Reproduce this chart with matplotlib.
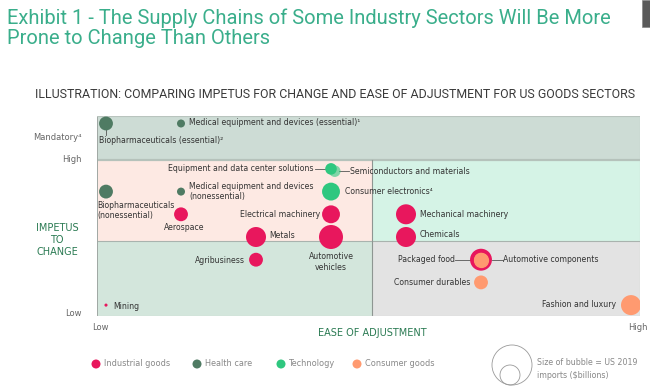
import matplotlib
matplotlib.use("Agg")
import matplotlib.pyplot as plt
from matplotlib.patches import Rectangle, Circle
import numpy as np

# ---------------- data ----------------
sectors = ["Biopharmaceuticals (essential)", "Medical equipment and devices (essential)",
           "Equipment and data center solutions", "Semiconductors and materials",
           "Consumer electronics", "Biopharmaceuticals (nonessential)",
           "Medical equipment and devices (nonessential)", "Aerospace",
           "Electrical machinery", "Metals", "Automotive vehicles",
           "Mechanical machinery", "Chemicals", "Agribusiness",
           "Automotive components", "Packaged food", "Consumer durables",
           "Fashion and luxury", "Mining"]
groups = ["Health care", "Health care", "Technology", "Technology", "Technology",
          "Health care", "Health care", "Industrial goods", "Industrial goods",
          "Industrial goods", "Industrial goods", "Industrial goods", "Industrial goods",
          "Industrial goods", "Industrial goods", "Consumer goods", "Consumer goods",
          "Consumer goods", "Industrial goods"]
ease = [1, 2, 4, 4.05, 4, 1, 2, 2, 4, 3, 4, 5, 5, 3, 6, 6, 6, 8, 1]
impetus = [9, 9, 7, 6.9, 6, 6, 6, 5, 5, 4, 4, 5, 4, 3, 3, 3, 2, 1, 1]
imports = [60, 20, 42, 42, 100, 60, 20, 60, 100, 125, 180, 125, 125, 60, 150, 60, 60, 125, 3]

group_names = ["Industrial goods", "Health care", "Technology", "Consumer goods"]
group_colors = {"Industrial goods": "#e8175d", "Health care": "#4f7b63",
                "Technology": "#2fc77f", "Consumer goods": "#ff9a70"}

# ---------------- figure ----------------
fig = plt.figure(figsize=(6.5, 3.88), dpi=100)
W, H = 650, 388

def fx(px):
    return px / W

def fy(py):
    return 1 - py / H

ax = fig.add_axes([fx(97), fy(316), (640 - 97) / W, (316 - 116) / H])
x0, x1 = 0.88, 8.12
y0, y1 = 0.52, 9.33
ax.set_xlim(x0, x1)
ax.set_ylim(y0, y1)
ax.set_xticks([])
ax.set_yticks([])
for s in ax.spines.values():
    s.set_visible(False)

xdiv = 4.55
ydiv_hi = 7.39
ydiv_lo = 3.82
ax.add_patch(Rectangle((x0, ydiv_hi), x1 - x0, y1 - ydiv_hi, fc="#cddcd5", ec="none", zorder=0))
ax.add_patch(Rectangle((x0, ydiv_lo), xdiv - x0, ydiv_hi - ydiv_lo, fc="#fde9e3", ec="none", zorder=0))
ax.add_patch(Rectangle((xdiv, ydiv_lo), x1 - xdiv, ydiv_hi - ydiv_lo, fc="#d5f3e6", ec="none", zorder=0))
ax.add_patch(Rectangle((x0, y0), xdiv - x0, ydiv_lo - y0, fc="#d3e6dc", ec="none", zorder=0))
ax.add_patch(Rectangle((xdiv, y0), x1 - xdiv, ydiv_lo - y0, fc="#e3e3e3", ec="none", zorder=0))
ax.axhline(ydiv_hi, color="#b5c2bb", lw=1.6, zorder=1)
ax.plot([x0, x1], [ydiv_lo, ydiv_lo], color="#a9b3ae", lw=0.8, zorder=1)
ax.plot([xdiv, xdiv], [y0, ydiv_hi], color="#8e9692", lw=0.8, zorder=1)
ax.plot([x0, x0], [y0, y1], color="#a0a8a4", lw=1.4, zorder=1)
ax.plot([x0, x1, x1], [y1, y1, y0], color="#b9c4be", lw=0.8, zorder=1)
ax.plot([x0, x1], [y0, y0], color="#c8c8c8", lw=0.8, zorder=1)

# bubbles: area proportional to imports (0.8 px^2 per $bn), convert to pt^2
px2pt = 72 / 100
sizes = [0.8 * v * 4 * px2pt ** 2 for v in imports]
order = np.argsort(imports)[::-1]
for i in order:
    alpha = 0.6 if sectors[i] == "Semiconductors and materials" else 1.0
    ax.scatter(ease[i], impetus[i], s=sizes[i], color=group_colors[groups[i]],
               edgecolors="none", alpha=alpha, zorder=3)
pf = sectors.index("Packaged food")
ax.scatter(ease[pf], impetus[pf], s=sizes[pf], color=group_colors[groups[pf]], zorder=4)

lab_kw = dict(fontsize=5.6, color="#333333", family="DejaVu Sans", zorder=5)

def lab(name, dx, dy, text=None, ha="left", va="center"):
    i = sectors.index(name)
    ax.annotate(text if text is not None else name, (ease[i], impetus[i]),
                xytext=(dx * px2pt, dy * px2pt), textcoords="offset points",
                ha=ha, va=va, **lab_kw)

def seg(name, dxa, dya, dxb, dyb):
    i = sectors.index(name)
    t = ax.transData
    p = t.transform((ease[i], impetus[i]))
    inv = t.inverted()
    a = inv.transform((p[0] + dxa, p[1] - dya))
    b = inv.transform((p[0] + dxb, p[1] - dyb))
    ax.plot([a[0], b[0]], [a[1], b[1]], color="#555555", lw=0.6, zorder=2)

lab("Biopharmaceuticals (essential)", -7, -17, "Biopharmaceuticals (essential)²")
seg("Biopharmaceuticals (essential)", 0, 6, 0, 12)
lab("Medical equipment and devices (essential)", 8, 1, "Medical equipment and devices (essential)¹")
lab("Equipment and data center solutions", -18, 0, ha="right")
seg("Equipment and data center solutions", -16, 0, -6, 0)
lab("Semiconductors and materials", 15, 0)
seg("Semiconductors and materials", 4, 0, 14, 0)
lab("Consumer electronics", 14, 0, "Consumer electronics⁴")
lab("Biopharmaceuticals (nonessential)", -9, -19, "Biopharmaceuticals\n(nonessential)")
lab("Medical equipment and devices (nonessential)", 8, 0, "Medical equipment and devices\n(nonessential)")
lab("Aerospace", 3, -13, ha="center")
lab("Electrical machinery", -11, 0, ha="right")
lab("Metals", 13, 1)
lab("Automotive vehicles", 0, -25, "Automotive\nvehicles", ha="center")
lab("Mechanical machinery", 14, 0)
lab("Chemicals", 14, 2)
lab("Agribusiness", -11, -1, ha="right")
lab("Packaged food", -26, 0, ha="right")
seg("Packaged food", -26, 0, -10, 0)
lab("Automotive components", 22, 0)
seg("Automotive components", 11, 0, 22, 0)
lab("Consumer durables", -11, 0, ha="right")
lab("Fashion and luxury", -15, 1, ha="right")
lab("Mining", 7, -1)

# ---------------- overlay in pixel coordinates ----------------
ov = fig.add_axes([0, 0, 1, 1], zorder=10)
ov.set_xlim(0, W)
ov.set_ylim(H, 0)
ov.axis("off")
ov.patch.set_alpha(0)

tick_kw = dict(fontsize=6, color="#666666", family="DejaVu Sans")
ov.text(82, 137, "Mandatory⁴", ha="right", va="center", **tick_kw)
ov.text(82, 160, "High", ha="right", va="center", **tick_kw)
ov.text(82, 313, "Low", ha="right", va="center", **tick_kw)
ov.text(92, 328, "Low", ha="left", va="center", **tick_kw)
ov.text(648, 328, "High", ha="right", va="center", **tick_kw)
ov.text(57, 240, "IMPETUS\nTO\nCHANGE", ha="center", va="center",
        fontsize=7, color="#2a7a52", family="DejaVu Sans", linespacing=1.3)
ov.text(372, 333, "EASE OF ADJUSTMENT", ha="center", va="center",
        fontsize=7, color="#2a7a52", family="DejaVu Sans")

# titles
ov.text(7, 28, "Exhibit 1 - The Supply Chains of Some Industry Sectors Will Be More\nProne to Change Than Others",
        ha="left", va="center", fontsize=14.5, color="#3aae8b", family="Roboto", linespacing=1.1)
ov.text(35, 94, "ILLUSTRATION: COMPARING IMPETUS FOR CHANGE AND EASE OF ADJUSTMENT FOR US GOODS SECTORS",
        ha="left", va="center", fontsize=8.9, color="#3a3a3a", family="Roboto")

# corner icon
ov.add_patch(Rectangle((642, 0), 9, 27, fc="#5a5a5a", ec="#888888", lw=0.5, clip_on=False))

# legend
leg_x = [96, 197, 281, 357]
for gx, g in zip(leg_x, group_names):
    ov.add_patch(Circle((gx, 364), 4.5, fc=group_colors[g], ec="none"))
    ov.text(gx + 8, 364, g, ha="left", va="center", fontsize=5.9,
            color="#888888", family="DejaVu Sans")

ov.add_patch(Circle((512, 365), 20, fc="none", ec="#999999", lw=0.6))
ov.add_patch(Circle((510, 375), 10, fc="none", ec="#999999", lw=0.6))
ov.text(537, 369, "Size of bubble = US 2019\nimports ($billions)", ha="left", va="center",
        fontsize=5.7, color="#888888", family="DejaVu Sans", linespacing=1.45)

fig.savefig("out.png", dpi=100)
